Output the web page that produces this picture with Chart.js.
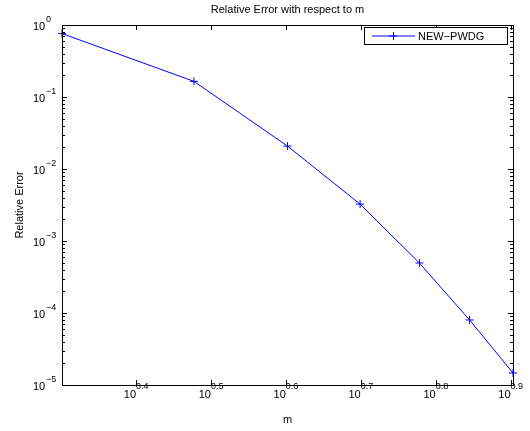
<!DOCTYPE html>
<html>
<head>
<meta charset="utf-8">
<script src="https://cdn.jsdelivr.net/npm/chart.js@4.4.1/dist/chart.umd.min.js"></script>
<style>
  html, body { margin: 0; padding: 0; background: #fff; }
  #wrap { width: 530px; height: 431px; position: relative; }
</style>
</head>
<body>
<div id="wrap"><canvas id="errChart"></canvas></div>
<script>
const mValues = [2, 3, 4, 5, 6, 7, 8];
const relError = [0.76, 0.165, 0.0208, 0.00325, 0.000495, 0.00008, 0.0000147];
const xTickExps = [0.4, 0.5, 0.6, 0.7, 0.8, 0.9];
const yTickExps = [-5, -4, -3, -2, -1, 0];
const seriesName = "NEW\u2212PWDG";
const titleText = "Relative Error with respect to m";
const xTitle = "m";
const yTitle = "Relative Error";

const FONT = "'Liberation Sans', Arial, Helvetica, sans-serif";

// matlab-ish frame, inward ticks, superscript labels, legend
const matlabAxes = {
  id: "matlabAxes",
  afterDraw(chart) {
    const ctx = chart.ctx;
    const a = chart.chartArea;
    const xs = chart.scales.x;
    const ys = chart.scales.y;
    ctx.save();
    ctx.strokeStyle = "#000";
    ctx.lineWidth = 1;
    ctx.strokeRect(Math.round(a.left) + 0.5, Math.round(a.top) + 0.5,
      Math.round(a.right - a.left), Math.round(a.bottom - a.top));

    ctx.beginPath();
    xTickExps.forEach((e) => {
      const px = Math.round(xs.getPixelForValue(Math.pow(10, e))) + 0.5;
      ctx.moveTo(px, a.bottom); ctx.lineTo(px, a.bottom - 5);
      ctx.moveTo(px, a.top); ctx.lineTo(px, a.top + 5);
    });
    yTickExps.forEach((e) => {
      const py = Math.round(ys.getPixelForValue(Math.pow(10, e))) + 0.5;
      ctx.moveTo(a.left, py); ctx.lineTo(a.left + 5, py);
      ctx.moveTo(a.right, py); ctx.lineTo(a.right - 5, py);
      if (e < 0) {
        for (let k = 2; k <= 9; k++) {
          const pm = Math.round(ys.getPixelForValue(k * Math.pow(10, e))) + 0.5;
          ctx.moveTo(a.left, pm); ctx.lineTo(a.left + 3, pm);
          ctx.moveTo(a.right, pm); ctx.lineTo(a.right - 3, pm);
        }
      }
    });
    ctx.stroke();

    ctx.fillStyle = "#000";
    ctx.textBaseline = "alphabetic";
    // x labels
    xTickExps.forEach((e) => {
      const px = xs.getPixelForValue(Math.pow(10, e));
      ctx.font = "11px " + FONT;
      const wb = ctx.measureText("10").width;
      ctx.font = "9px " + FONT;
      const we = ctx.measureText(String(e)).width;
      const x0 = px - (wb + we) / 2;
      ctx.font = "11px " + FONT;
      ctx.textAlign = "left";
      ctx.fillText("10", x0, 398);
      ctx.font = "9px " + FONT;
      ctx.fillText(String(e), x0 + wb, 389);
    });
    // y labels
    yTickExps.forEach((e) => {
      const py = ys.getPixelForValue(Math.pow(10, e));
      ctx.font = "11px " + FONT;
      ctx.textAlign = "left";
      ctx.fillText("10", 33, py + 5);
      ctx.font = "9px " + FONT;
      ctx.fillText(e < 0 ? "\u2212" + Math.abs(e) : String(e), 46, py - 3);
    });

    // titles
    ctx.font = "11px " + FONT;
    ctx.textAlign = "center";
    ctx.fillText(titleText, (a.left + a.right) / 2, 13);
    ctx.fillText(xTitle, (a.left + a.right) / 2, 423);
    ctx.save();
    ctx.translate(23, (a.top + a.bottom) / 2);
    ctx.rotate(-Math.PI / 2);
    ctx.fillText(yTitle, 0, 0);
    ctx.restore();

    // legend
    const ds = chart.data.datasets[0];
    const bx = 364.5, by = 27.5, bw = 143, bh = 17;
    ctx.fillStyle = "#fff";
    ctx.fillRect(bx, by, bw, bh);
    ctx.strokeStyle = "#000";
    ctx.strokeRect(bx, by, bw, bh);
    const ly = by + bh / 2;
    ctx.strokeStyle = ds.borderColor;
    ctx.beginPath();
    ctx.moveTo(372, ly); ctx.lineTo(415, ly);
    ctx.moveTo(389, ly); ctx.lineTo(397, ly);
    ctx.moveTo(393.5, ly - 4); ctx.lineTo(393.5, ly + 4);
    ctx.stroke();
    ctx.fillStyle = "#000";
    ctx.font = "11px " + FONT;
    ctx.textAlign = "left";
    ctx.fillText(ds.label, 418, ly + 4);
    ctx.restore();
  },
};

const ctx = document.getElementById("errChart").getContext("2d");
new Chart(ctx, {
  type: "line",
  data: {
    datasets: [
      {
        label: seriesName,
        data: mValues.map((m, i) => ({ x: m, y: relError[i] })),
        borderColor: "#0000ff",
        backgroundColor: "#0000ff",
        borderWidth: 1,
        tension: 0,
        pointStyle: "cross",
        pointRadius: 4,
        pointBorderWidth: 1,
        clip: false,
      },
    ],
  },
  options: {
    responsive: true,
    maintainAspectRatio: false,
    animation: false,
    layout: { padding: { left: 0, right: 17, top: 25, bottom: 0 } },
    plugins: { legend: { display: false }, title: { display: false }, tooltip: { enabled: false } },
    scales: {
      x: {
        type: "logarithmic",
        min: 2,
        max: 8,
        afterBuildTicks: (s) => { s.ticks = xTickExps.map((e) => ({ value: Math.pow(10, e) })); },
        afterFit: (s) => { s.height = 46; },
        ticks: { display: false },
        grid: { display: false },
        border: { display: false },
      },
      y: {
        type: "logarithmic",
        min: 1e-5,
        max: 1,
        afterBuildTicks: (s) => { s.ticks = yTickExps.map((e) => ({ value: Math.pow(10, e) })); },
        afterFit: (s) => { s.width = 62; },
        ticks: { display: false },
        grid: { display: false },
        border: { display: false },
      },
    },
  },
  plugins: [matlabAxes],
});
</script>
</body>
</html>
